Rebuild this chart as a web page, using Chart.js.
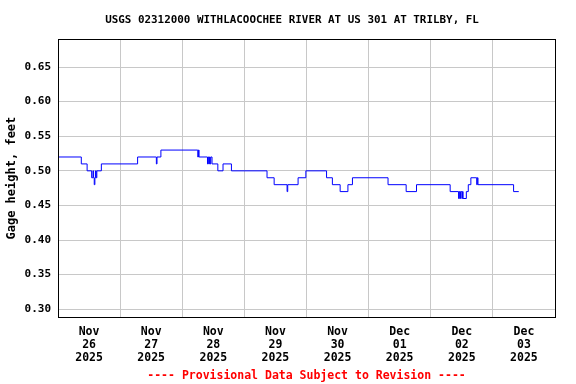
<!DOCTYPE html>
<html>
<head>
<meta charset="utf-8">
<title>USGS 02312000 Gage Height</title>
<script src="https://cdn.jsdelivr.net/npm/chart.js@4.4.1/dist/chart.umd.min.js"></script>
<style>
    html, body { margin: 0; padding: 0; background: #ffffff; }
    #wrap { width: 576px; height: 384px; }
</style>
</head>
<body>
<div id="wrap"><canvas id="gageChart" width="576" height="384"></canvas></div>
<script>
// Gage height, WITHLACOOCHEE RIVER AT US 301 AT TRILBY, FL

// Hours since Nov 26 2025 00:00 where the reading changes
const hours = [0, 9, 11.25, 13, 13.5, 13.75, 14, 14.25, 14.5, 14.75, 15, 16.75,
    30.75, 38, 38.25, 39.75, 54, 54.25, 54.5, 57.75, 58, 58.25, 58.5, 58.75, 59,
    59.5, 61.75, 63.75, 67, 80.75, 83.5, 88.5, 88.75, 92.75, 95.75, 103.75, 106, 109, 112,
    113.75, 127.5, 134.5, 138.5, 151.5, 154.75, 155, 155.25, 155.5, 156, 156.25, 156.5,
    157.75, 158.5, 159.5, 161.75, 162, 162.25, 176, 178];

// Gage height, feet
const gage = [0.52, 0.51, 0.50, 0.49, 0.50, 0.49, 0.48, 0.49, 0.50, 0.49, 0.50, 0.51,
    0.52, 0.51, 0.52, 0.53, 0.52, 0.53, 0.52, 0.51, 0.52, 0.51, 0.52, 0.51, 0.52,
    0.51, 0.50, 0.51, 0.50, 0.49, 0.48, 0.47, 0.48, 0.49, 0.50, 0.49, 0.48, 0.47, 0.48,
    0.49, 0.48, 0.47, 0.48, 0.47, 0.46, 0.47, 0.46, 0.47, 0.46, 0.47, 0.46,
    0.47, 0.48, 0.49, 0.48, 0.49, 0.48, 0.47, 0.47];

// Day labels (centred at noon of each day)
const dayMonths = ['Nov', 'Nov', 'Nov', 'Nov', 'Nov', 'Dec', 'Dec', 'Dec'];
const dayNums = ['26', '27', '28', '29', '30', '01', '02', '03'];
const dayYears = ['2025', '2025', '2025', '2025', '2025', '2025', '2025', '2025'];

// Y axis ticks
const yTicks = [0.30, 0.35, 0.40, 0.45, 0.50, 0.55, 0.60, 0.65];

const chartTitle = 'USGS 02312000 WITHLACOOCHEE RIVER AT US 301 AT TRILBY, FL';

const FONT = "'DejaVu Sans Mono', 'Liberation Mono', monospace";
const GRID = '#c8c8c8';

// Frame around the plot area + title above it
const framePlugin = {
    id: 'frame',
    afterDatasetsDraw(chart) {
        const a = chart.chartArea;
        const ctx = chart.ctx;
        ctx.save();
        ctx.strokeStyle = '#000000';
        ctx.lineWidth = 1;
        ctx.strokeRect(Math.round(a.left) + 0.5, Math.round(a.top) + 0.5,
            Math.round(a.right - a.left), Math.round(a.bottom - a.top));

        // title
        ctx.fillStyle = '#000000';
        ctx.font = "bold 10.9px " + FONT;
        ctx.textAlign = 'center';
        ctx.textBaseline = 'middle';
        ctx.fillText(chartTitle, 292, 20);
        ctx.restore();
    }
};

document.addEventListener('DOMContentLoaded', function() {
    const points = hours.map((h, i) => ({ x: h, y: gage[i] }));

    // gridlines at midnight, labels at noon
    const xTickValues = [];
    for (let h = 0; h <= 192; h += 12) {
        xTickValues.push(h);
    }

    new Chart(document.getElementById('gageChart').getContext('2d'), {
        type: 'line',
        data: {
            datasets: [{
                data: points,
                borderColor: '#0000ff',
                borderWidth: 1,
                pointRadius: 0,
                stepped: true,
                fill: false
            }]
        },
        plugins: [framePlugin],
        options: {
            responsive: false,
            animation: false,
            devicePixelRatio: 1,
            layout: { padding: { left: 0, right: 21, top: 39, bottom: 0 } },
            scales: {
                x: {
                    type: 'linear',
                    min: 0,
                    max: 192,
                    afterBuildTicks: function(scale) {
                        scale.ticks = xTickValues.map(v => ({ value: v }));
                    },
                    afterFit: function(scale) {
                        scale.height = 52;
                    },
                    grid: {
                        drawTicks: false,
                        color: function(ctx) {
                            return (ctx.tick && ctx.tick.value % 24 === 0) ? GRID : 'rgba(0,0,0,0)';
                        }
                    },
                    border: { display: false },
                    ticks: {
                        autoSkip: false,
                        maxRotation: 0,
                        padding: 8,
                        color: '#000000',
                        font: { family: FONT, size: 11.5, weight: 'bold', lineHeight: 1.13 },
                        callback: function(value) {
                            if (value % 24 !== 12) return '';
                            const i = (value - 12) / 24;
                            return [dayMonths[i], dayNums[i], dayYears[i]];
                        }
                    }
                },
                y: {
                    min: 0.2885,
                    max: 0.6905,
                    afterBuildTicks: function(scale) {
                        scale.ticks = yTicks.map(v => ({ value: v }));
                    },
                    afterFit: function(scale) {
                        scale.width = 58;
                    },
                    grid: { drawTicks: false, color: GRID },
                    border: { display: false },
                    title: {
                        display: true,
                        text: 'Gage height, feet',
                        color: '#000000',
                        padding: { top: 5, bottom: 0 },
                        font: { family: FONT, size: 12, weight: 'bold' }
                    },
                    ticks: {
                        padding: 7,
                        color: '#000000',
                        font: { family: FONT, size: 11, weight: 'bold' },
                        callback: function(value) {
                            return Number(value).toFixed(2);
                        }
                    }
                }
            },
            plugins: {
                legend: { display: false },
                tooltip: { enabled: false },
                title: { display: false },
                subtitle: {
                    display: true,
                    position: 'bottom',
                    fullSize: false,
                    text: '---- Provisional Data Subject to Revision ----',
                    color: '#ff0000',
                    padding: { top: 0, bottom: 1 },
                    font: { family: FONT, size: 11.5, weight: 'bold' }
                }
            }
        }
    });
});
</script>
</body>
</html>
